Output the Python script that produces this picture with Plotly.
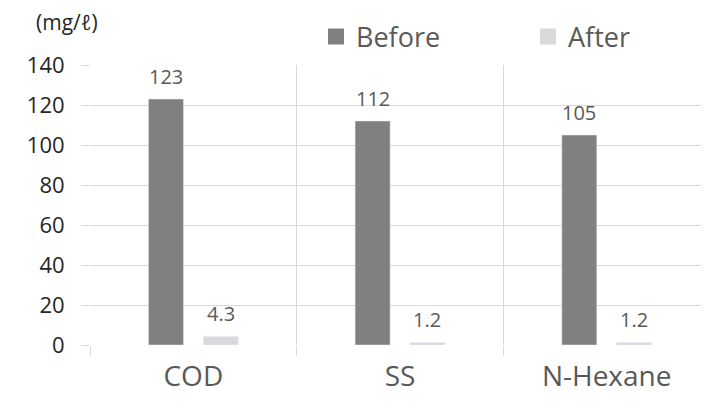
import plotly.graph_objects as go

categories = ["COD", "SS", "N-Hexane"]
before_vals = [123, 112, 105]
after_vals = [4.3, 1.2, 1.2]
before_labels = ["123", "112", "105"]
after_labels = ["4.3", "1.2", "1.2"]
series_names = ["Before", "After"]
series_colors = ["#808080", "#d9d9d9"]
y_ticks = [0, 20, 40, 60, 80, 100, 120, 140]

# page body has an 8px margin, so figure coords = screen coords - 8
OFF = 8
W, H = 709, 412
ML, MR, MT, MB = 90 - OFF, 7, 65 - OFF, 75
BARGAP = 0.47
GROUPGAP = 0.36
TXT = "#595959"
GRID = "#d9d9d9"
FONT = "Open Sans"

plot_w = W - ML - MR
plot_h = H - MT - MB


def px_x(x):
    return (x - OFF - ML) / plot_w


def px_y(y):
    return 1 + (MT - (y - OFF)) / plot_h


fig = go.Figure()
fig.add_trace(go.Bar(x=categories, y=before_vals, name=series_names[0],
                     marker_color=series_colors[0], showlegend=False))
fig.add_trace(go.Bar(x=categories, y=after_vals, name=series_names[1],
                     marker_color=series_colors[1], showlegend=False))
# legend entries with larger square swatches
for name, col, leg in zip(series_names, series_colors, ["legend", "legend2"]):
    fig.add_trace(go.Scatter(x=[None], y=[None], mode="markers", name=name,
                             marker=dict(symbol="square", size=17, color=col),
                             legend=leg, showlegend=True, hoverinfo="skip"))

cat_w = plot_w / len(categories)
slot = cat_w * (1 - BARGAP) / 2
offsets = [-slot / 2, slot / 2]

anns = []
for vals, labels, off in [(before_vals, before_labels, offsets[0]),
                          (after_vals, after_labels, offsets[1])]:
    for c, v, t in zip(categories, vals, labels):
        anns.append(dict(x=c, y=v, xref="x", yref="y", text=t, showarrow=False,
                         xshift=off, yshift=23, yanchor="middle",
                         font=dict(size=20, color=TXT, family=FONT)))
anns.append(dict(x=px_x(34), y=px_y(22), xref="paper", yref="paper", text="(mg/ℓ)",
                 showarrow=False, xanchor="left", yanchor="middle",
                 font=dict(size=21, color="#262626", family=FONT)))

leg_common = dict(orientation="h", yanchor="middle", xanchor="left",
                  font=dict(size=27, color=TXT), bgcolor="rgba(0,0,0,0)",
                  itemwidth=30)

fig.update_layout(
    width=W, height=H,
    margin=dict(l=ML, r=MR, t=MT, b=MB, autoexpand=False),
    paper_bgcolor="white", plot_bgcolor="white",
    barmode="group", bargap=BARGAP, bargroupgap=GROUPGAP,
    font=dict(family=FONT, color=TXT),
    showlegend=True,
    legend=dict(x=px_x(316), y=px_y(37), **leg_common),
    legend2=dict(x=px_x(528), y=px_y(37), **leg_common),
    annotations=anns,
    xaxis=dict(type="category", tickson="boundaries", showgrid=True, gridcolor=GRID,
               gridwidth=1, ticks="outside", ticklen=10, tickcolor=GRID,
               tickfont=dict(size=28, color=TXT), showline=False, zeroline=False,
               ticklabelstandoff=12, automargin=False, fixedrange=True),
    yaxis=dict(range=[0, 140], tickvals=y_ticks, showgrid=True, gridcolor=GRID,
               ticks="outside", ticklen=8, tickcolor=GRID, zeroline=False,
               showline=False, tickfont=dict(size=22, color="#262626"),
               ticklabelstandoff=12, automargin=False, fixedrange=True),
)
fig.write_html("out.html")
